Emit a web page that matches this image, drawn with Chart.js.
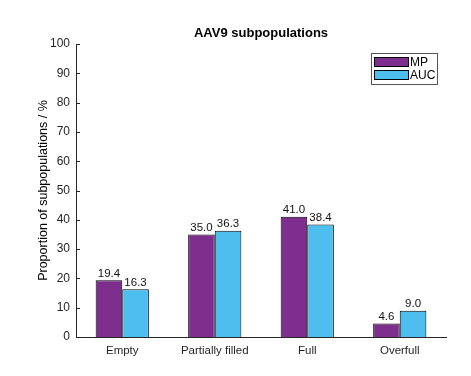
<!DOCTYPE html>
<html>
<head>
<meta charset="utf-8">
<script src="https://cdn.jsdelivr.net/npm/chart.js@4"></script>
<style>
  body { margin: 0; background: #fff; }
  #wrap { width: 471px; height: 376px; }
</style>
</head>
<body>
<div id="wrap"><canvas id="bar-chart" width="471" height="376"></canvas></div>
<script>
var categories = ["Empty", "Partially filled", "Full", "Overfull"]
var mpValues = [19.4, 35.0, 41.0, 4.6]
var aucValues = [16.3, 36.3, 38.4, 9.0]
var seriesNames = ["MP", "AUC"]
var yTicks = [0, 10, 20, 30, 40, 50, 60, 70, 80, 90, 100]
var chartTitle = "AAV9 subpopulations"
var yTitle = "Proportion of subpopulations / %"

var font = "'Liberation Sans', Arial, sans-serif"
var axisColor = "#262626"
var purple = "#7E2F8E"
var cyan = "#4DBEEE"

// value labels, inward ticks, title and legend box (matlab style)
var extras = {
  id: "extras",
  afterDatasetsDraw: function(chart){
    var ctx = chart.ctx
    var area = chart.chartArea
    ctx.save()
    ctx.fillStyle = "#111"
    ctx.font = "11.5px " + font
    ctx.textAlign = "center"
    ctx.textBaseline = "bottom"
    chart.data.datasets.forEach(function(ds, i){
      chart.getDatasetMeta(i).data.forEach(function(bar, j){
        ctx.fillText(ds.data[j].toFixed(1), bar.x, bar.y - 1)
      })
    })

    // inward y ticks
    var y = chart.scales.y
    ctx.strokeStyle = axisColor
    ctx.lineWidth = 1
    yTicks.forEach(function(v){
      var py = Math.round(y.getPixelForValue(v)) + 0.5
      ctx.beginPath()
      ctx.moveTo(area.left, py)
      ctx.lineTo(area.left + 4, py)
      ctx.stroke()
    })

    // title
    ctx.fillStyle = "#000"
    ctx.font = "bold 13px " + font
    ctx.textBaseline = "middle"
    ctx.fillText(chartTitle, (area.left + area.right) / 2, 33)

    // legend box
    var lx = 371, ly = 53, lw = 66, lh = 31
    ctx.fillStyle = "#fff"
    ctx.fillRect(lx, ly, lw, lh)
    ctx.strokeStyle = "#555"
    ctx.strokeRect(lx + 0.5, ly + 0.5, lw, lh)
    var colors = [purple, cyan]
    ctx.font = "12px " + font
    ctx.textAlign = "left"
    seriesNames.forEach(function(name, i){
      var sy = ly + 4 + i * 13
      ctx.fillStyle = colors[i]
      ctx.fillRect(lx + 3.5, sy + 0.5, 34, 9)
      ctx.strokeStyle = "#000"
      ctx.strokeRect(lx + 3.5, sy + 0.5, 34, 9)
      ctx.fillStyle = "#000"
      ctx.fillText(name, lx + 39, sy + 6)
    })
    ctx.restore()
  }
}

var myChart = new Chart(document.getElementById("bar-chart"), {
  type: "bar",
  data: {
    labels: categories,
    datasets: [
      { label: seriesNames[0], data: mpValues, backgroundColor: purple, borderColor: "#000", borderWidth: 1 },
      { label: seriesNames[1], data: aucValues, backgroundColor: cyan, borderColor: "#000", borderWidth: 1 }
    ]
  },
  options: {
    responsive: false,
    animation: false,
    layout: { padding: { top: 44, right: 25, left: 0, bottom: 0 } },
    datasets: { bar: { categoryPercentage: 0.575, barPercentage: 1 } },
    plugins: {
      legend: { display: false },
      title: { display: false },
      tooltip: { enabled: false }
    },
    scales: {
      x: {
        grid: { display: false, drawTicks: false },
        border: { color: axisColor },
        ticks: { color: axisColor, font: { family: font, size: 11.5 }, padding: 7 },
        afterFit: function(scale){ scale.height = 39 }
      },
      y: {
        min: 0,
        max: 100,
        afterBuildTicks: function(scale){
          scale.ticks = yTicks.map(function(v){ return { value: v } })
        },
        grid: { display: false, drawTicks: false },
        border: { color: axisColor },
        ticks: { color: axisColor, font: { family: font, size: 12 }, padding: 6 },
        title: {
          display: true,
          text: yTitle,
          color: "#000",
          font: { family: font, size: 12.5 },
          padding: { top: 36, bottom: 0 }
        },
        afterFit: function(scale){ scale.width = 76 }
      }
    }
  },
  plugins: [extras]
});
</script>
</body>
</html>
